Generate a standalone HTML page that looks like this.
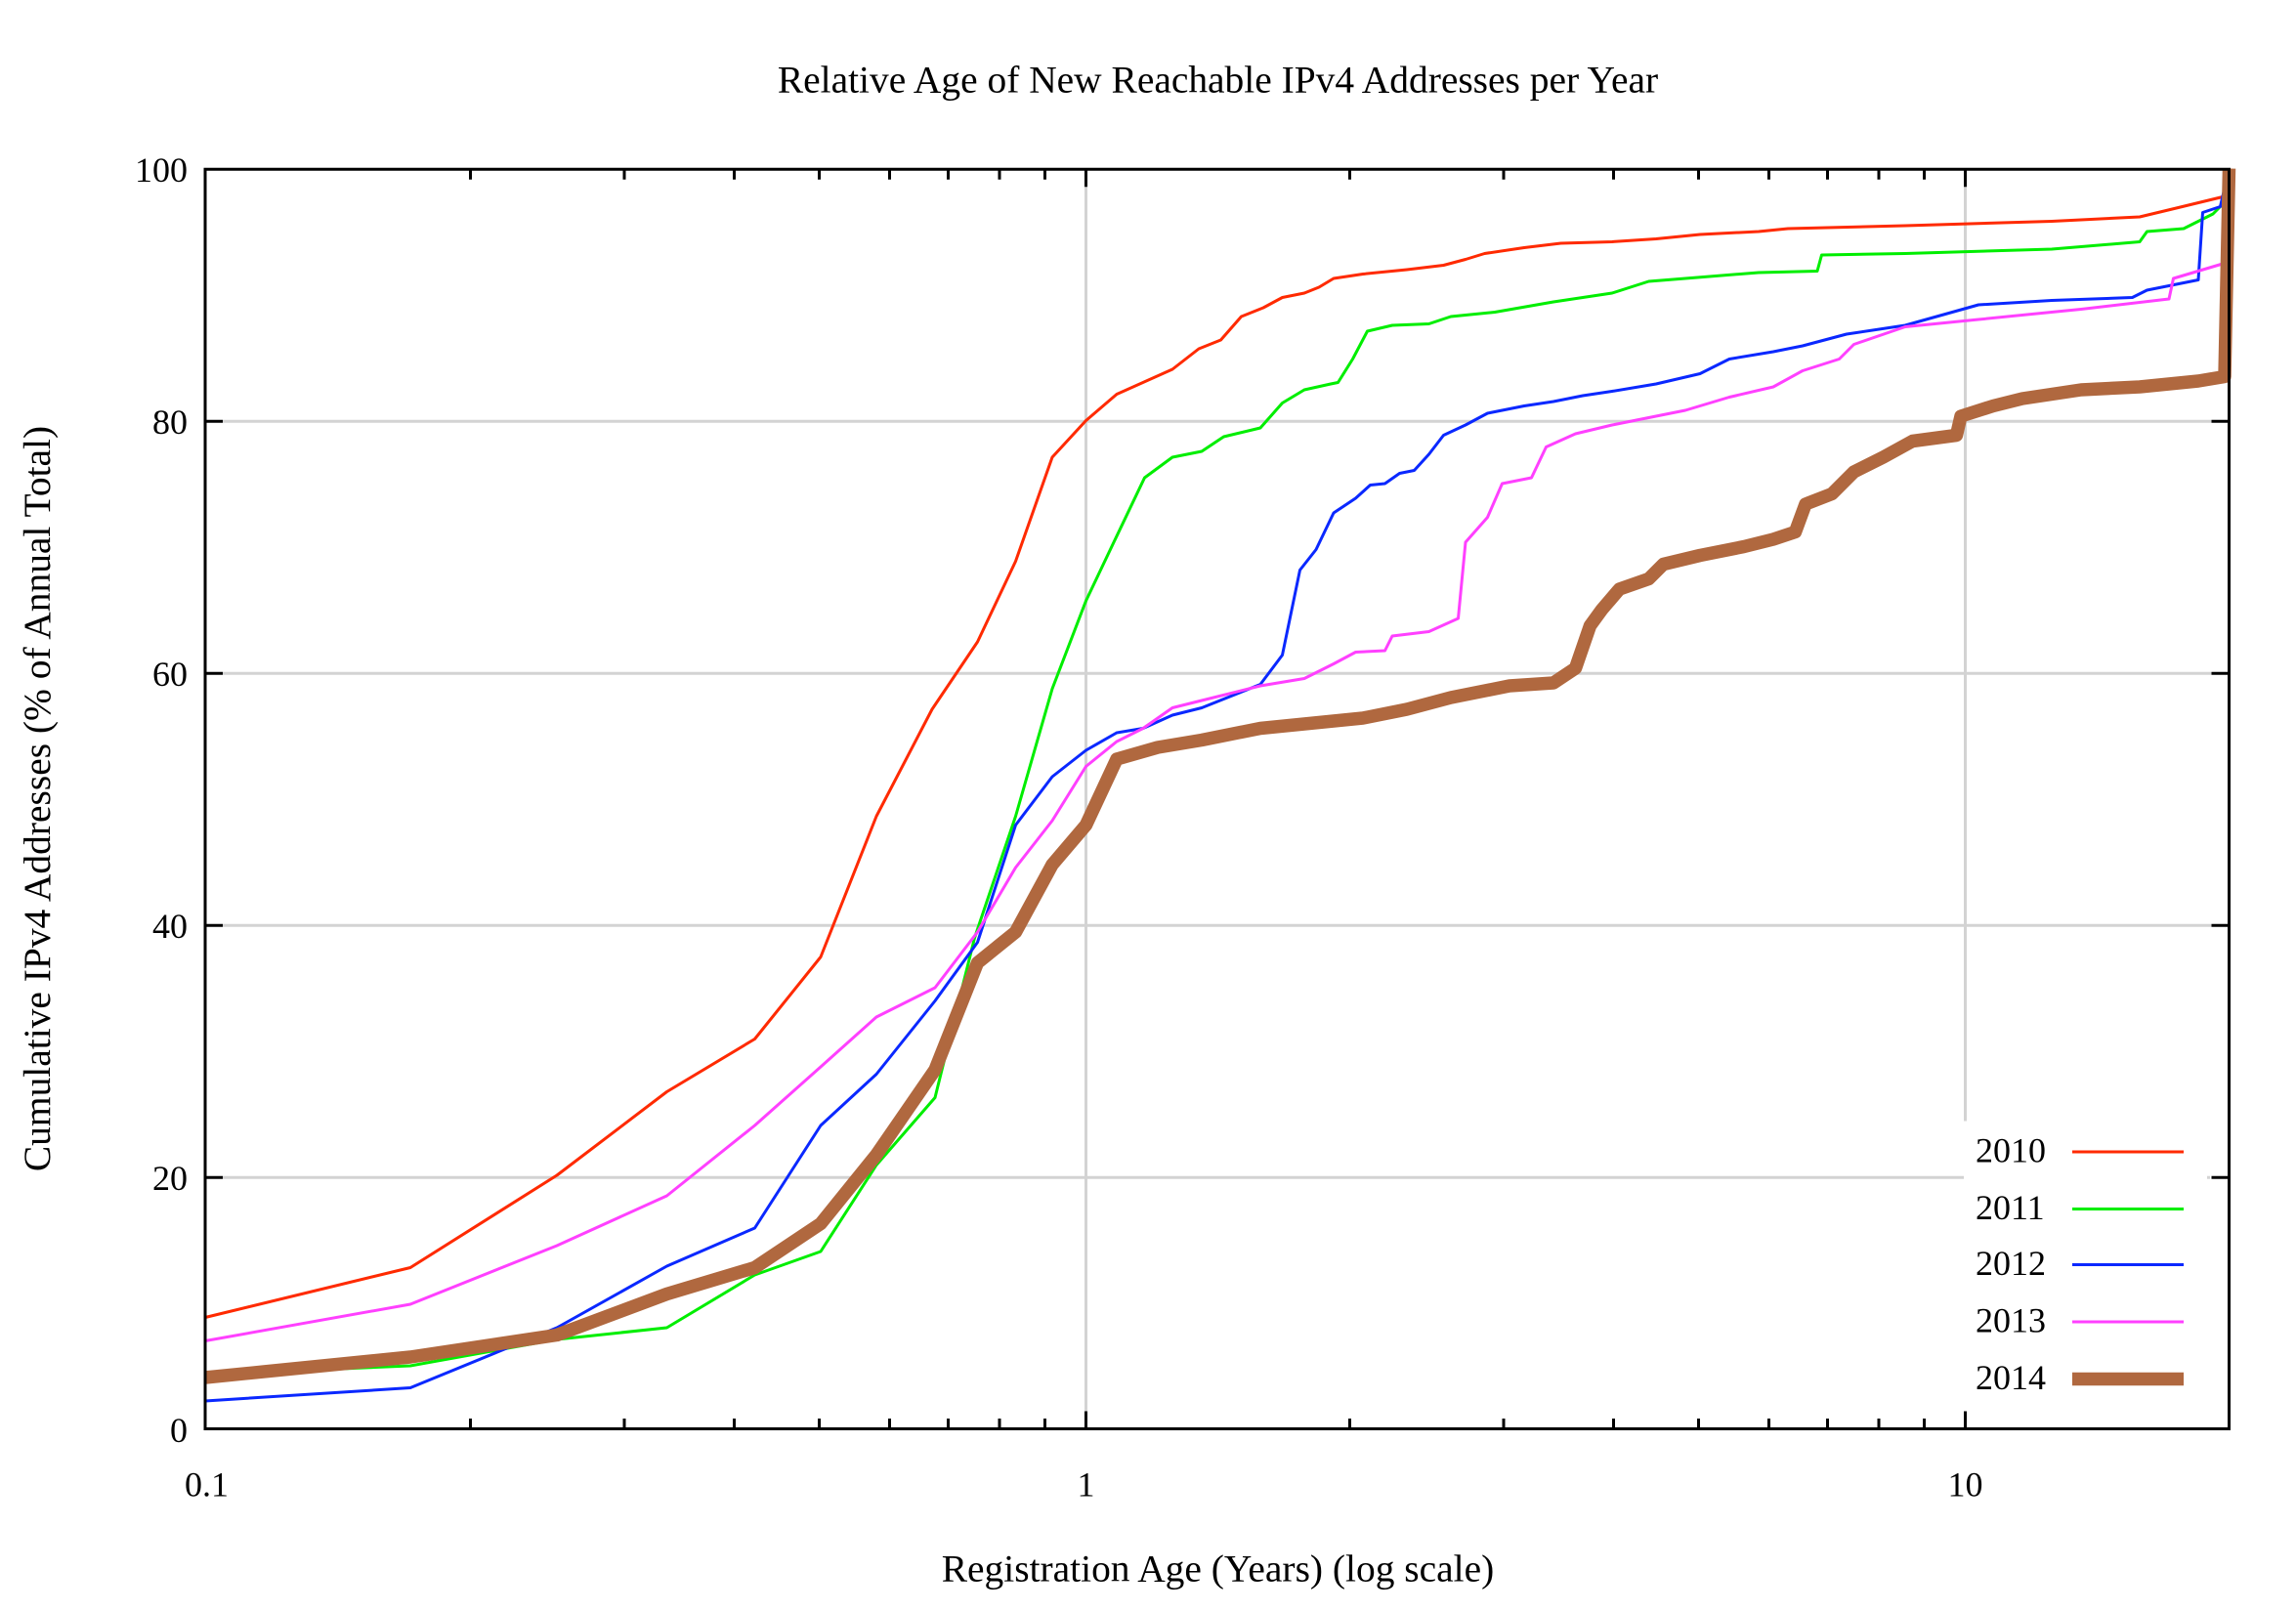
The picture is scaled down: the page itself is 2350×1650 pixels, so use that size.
<!DOCTYPE html>
<html><head><meta charset="utf-8"><style>html,body{margin:0;padding:0;background:#fff}svg{display:block}</style></head>
<body>
<svg width="2350" height="1650" viewBox="0 0 2350 1650" xmlns="http://www.w3.org/2000/svg" font-family="Liberation Serif, serif">
<g transform="scale(1.5)">
<g stroke="#d3d3d3" stroke-width="2" fill="none">
<line x1="152" y1="803.5" x2="1340" y2="803.5"/><line x1="1420" y1="803.5" x2="1508" y2="803.5"/>
<line x1="152" y1="631.5" x2="1509" y2="631.5"/>
<line x1="152" y1="459.5" x2="1509" y2="459.5"/>
<line x1="152" y1="287.5" x2="1509" y2="287.5"/>
<line x1="741" y1="127" x2="741" y2="963"/>
<line x1="1341" y1="127" x2="1341" y2="765"/>
</g>
<g fill="none" stroke-linejoin="round" stroke-width="2">
<polyline stroke="#ff2a00" points="140,899 280,865 380,802 455,745 515,709 560,653 598,557 636,484 667,438 693,383 718,312 741,287 762,269 800,252 818,238 833,232 847,216 862,210 875,203 890,200 900,196 910,190 930,187 960,184 985,181 1000,177 1013,173 1040,169 1065,166 1100,165 1130,163 1160,160 1200,158 1220,156 1300,154 1400,151 1460,148 1485,142 1518,134 1521,115"/>
<polyline stroke="#00ee00" points="140,938 280,932 380,914 455,906 515,870 560,854 598,795 638,749 665,640 693,557 718,470 741,410 760,370 781,326 800,312 820,308 835,298 860,292 875,275 890,266 908,262 913,261 923,245 933,226 950,222 975,221 990,216 1020,213 1060,206 1100,200 1125,192 1150,190 1200,186 1240,185 1243,174 1300,173 1400,170 1460,165 1465,158 1490,156 1510,146 1520,136 1521,115"/>
<polyline stroke="#0a28ff" points="140,956 280,947 380,906 455,864 515,838 560,768 598,733 638,683 667,643 693,563 718,530 741,512 762,500 780,497 800,488 820,483 860,467 875,447 887,389 898,375 910,350 925,340 935,331 945,330 955,323 965,321 975,310 985,297 1000,290 1015,282 1040,277 1060,274 1080,270 1100,267 1130,262 1160,255 1180,245 1210,240 1230,236 1260,228 1300,222 1350,208 1400,205 1455,203 1465,198 1500,191 1503,145 1515,141 1521,115"/>
<polyline stroke="#ff40ff" points="140,915 280,890 380,850 455,816 515,768 560,728 598,694 638,674 667,636 693,592 718,560 741,523 762,506 780,497 800,483 820,478 860,468 890,463 910,453 925,445 945,444 950,434 975,431 995,422 1000,370 1015,353 1025,330 1045,326 1055,305 1075,296 1100,290 1120,286 1150,280 1180,271 1210,264 1230,253 1255,245 1265,235 1300,223 1350,218 1420,211 1480,204 1483,190 1520,179 1521,115"/>
<polyline stroke="#b0683f" stroke-width="9" points="140,940 280,926 380,911 455,883 515,865 560,835 598,788 638,730 667,657 693,636 718,590 741,563 762,518 790,510 820,505 860,497 890,494 930,490 960,484 990,476 1030,468 1060,466 1075,456 1085,427 1093,416 1105,402 1125,395 1135,385 1160,379 1190,373 1210,368 1225,363 1232,344 1250,337 1265,322 1285,312 1305,301 1335,297 1338,284 1360,277 1380,272 1420,266 1460,264 1500,260 1518,257 1521,115"/>
</g>
<rect x="1342" y="766" width="164" height="184" fill="#fff"/>
<g font-size="24" fill="#000">
<text x="1348" y="793">2010</text><text x="1348" y="832">2011</text><text x="1348" y="870">2012</text><text x="1348" y="909">2013</text><text x="1348" y="948">2014</text>
</g>
<line x1="1414" y1="786" x2="1490" y2="786" stroke="#ff2a00" stroke-width="2"/>
<line x1="1414" y1="825" x2="1490" y2="825" stroke="#00ee00" stroke-width="2"/>
<line x1="1414" y1="863" x2="1490" y2="863" stroke="#0a28ff" stroke-width="2"/>
<line x1="1414" y1="902" x2="1490" y2="902" stroke="#ff40ff" stroke-width="2"/>
<line x1="1414" y1="941" x2="1490" y2="941" stroke="#b0683f" stroke-width="9"/>
<g stroke="#000" stroke-width="2" fill="none">
<rect x="140" y="115.5" width="1381" height="859.5"/>
<path d="M140 803.5h12M1521 803.5h-12M140 631.5h12M1521 631.5h-12M140 459.5h12M1521 459.5h-12M140 287.5h12M1521 287.5h-12"/>
<path d="M741 975v-12M741 115.5v12M1341 975v-12M1341 115.5v12"/>
<path d="M321 975v-7M321 115.5v7M426 975v-7M426 115.5v7M501 975v-7M501 115.5v7M559 975v-7M559 115.5v7M607 975v-7M607 115.5v7M647 975v-7M647 115.5v7M682 975v-7M682 115.5v7M713 975v-7M713 115.5v7M921 975v-7M921 115.5v7M1026 975v-7M1026 115.5v7M1101 975v-7M1101 115.5v7M1159 975v-7M1159 115.5v7M1207 975v-7M1207 115.5v7M1247 975v-7M1247 115.5v7M1282 975v-7M1282 115.5v7M1313 975v-7M1313 115.5v7M1521 975v-7"/>
</g>
<g font-size="24" fill="#000" text-anchor="end">
<text x="128" y="124">100</text><text x="128" y="296">80</text><text x="128" y="468">60</text><text x="128" y="640">40</text><text x="128" y="812">20</text><text x="128" y="984">0</text>
</g>
<g font-size="24" fill="#000" text-anchor="middle">
<text x="141" y="1021">0.1</text><text x="741" y="1021">1</text><text x="1341" y="1021">10</text>
</g>
<g font-size="26.3" fill="#000" text-anchor="middle">
<text x="831" y="1079">Registration Age (Years) (log scale)</text>
<text x="831" y="63">Relative Age of New Reachable IPv4 Addresses per Year</text>
<text transform="translate(34,545) rotate(-90)">Cumulative IPv4 Addresses (% of Annual Total)</text>
</g>
</g>
</svg>
</body></html>
